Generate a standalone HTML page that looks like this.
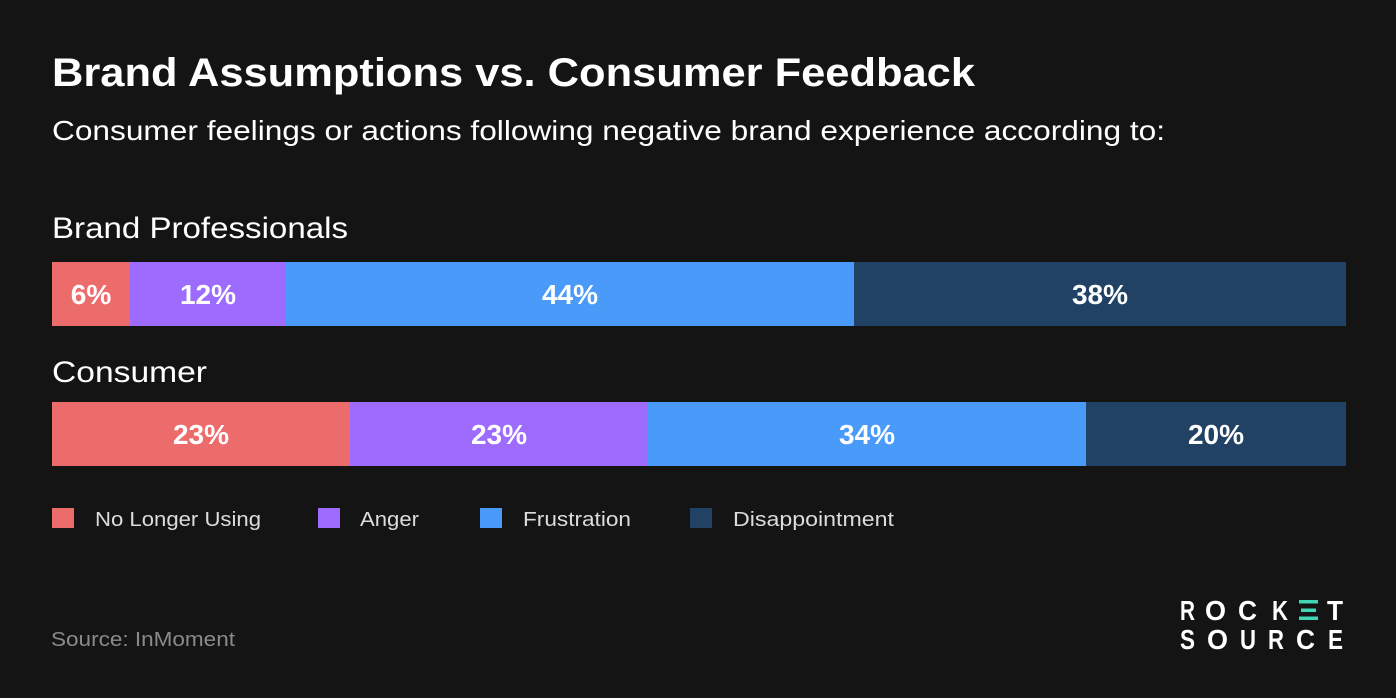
<!DOCTYPE html>
<html>
<head>
<meta charset="utf-8">
<style>
  html, body { margin:0; padding:0; background:#141414; }
  body { width:1396px; height:698px; overflow:hidden; }
  svg { display:block; }
  text { font-family: "Liberation Sans", "DejaVu Sans", sans-serif; }
</style>
</head>
<body>
<svg width="1396" height="698" viewBox="0 0 1396 698" xmlns="http://www.w3.org/2000/svg">
  <rect x="0" y="0" width="1396" height="698" fill="#141414"/>

  <!-- Title -->
  <text x="52" y="86" font-size="40" font-weight="bold" fill="#ffffff" textLength="923" lengthAdjust="spacingAndGlyphs">Brand Assumptions vs. Consumer Feedback</text>
  <!-- Subtitle -->
  <text x="52" y="140" font-size="28" fill="#ffffff" textLength="1113" lengthAdjust="spacingAndGlyphs">Consumer feelings or actions following negative brand experience according to:</text>

  <!-- Brand Professionals -->
  <text x="52" y="238" font-size="30" fill="#ffffff" textLength="296" lengthAdjust="spacingAndGlyphs">Brand Professionals</text>
  <rect x="52" y="262" width="78" height="64" fill="#EC6C6C"/>
  <rect x="130" y="262" width="156" height="64" fill="#9D6CFF"/>
  <rect x="286" y="262" width="568" height="64" fill="#4A9BF9"/>
  <rect x="854" y="262" width="492" height="64" fill="#224265"/>
  <g font-size="28" font-weight="bold" fill="#ffffff" text-anchor="middle">
    <text x="91" y="304">6%</text>
    <text x="208" y="304">12%</text>
    <text x="570" y="304">44%</text>
    <text x="1100" y="304">38%</text>
  </g>

  <!-- Consumer -->
  <text x="52" y="382" font-size="30" fill="#ffffff" textLength="155" lengthAdjust="spacingAndGlyphs">Consumer</text>
  <rect x="52" y="402" width="298" height="64" fill="#EC6C6C"/>
  <rect x="350" y="402" width="298" height="64" fill="#9D6CFF"/>
  <rect x="648" y="402" width="438" height="64" fill="#4A9BF9"/>
  <rect x="1086" y="402" width="260" height="64" fill="#224265"/>
  <g font-size="28" font-weight="bold" fill="#ffffff" text-anchor="middle">
    <text x="201" y="444">23%</text>
    <text x="499" y="444">23%</text>
    <text x="867" y="444">34%</text>
    <text x="1216" y="444">20%</text>
  </g>

  <!-- Legend -->
  <rect x="52" y="508" width="22" height="20" fill="#EC6C6C"/>
  <text x="95" y="526" font-size="20" fill="#dcdcdc" textLength="166" lengthAdjust="spacingAndGlyphs">No Longer Using</text>
  <rect x="318" y="508" width="22" height="20" fill="#9D6CFF"/>
  <text x="360" y="526" font-size="20" fill="#dcdcdc" textLength="59" lengthAdjust="spacingAndGlyphs">Anger</text>
  <rect x="480" y="508" width="22" height="20" fill="#4A9BF9"/>
  <text x="523" y="526" font-size="20" fill="#dcdcdc" textLength="108" lengthAdjust="spacingAndGlyphs">Frustration</text>
  <rect x="690" y="508" width="22" height="20" fill="#224265"/>
  <text x="733" y="526" font-size="20" fill="#dcdcdc" textLength="161" lengthAdjust="spacingAndGlyphs">Disappointment</text>

  <!-- Source -->
  <text x="51" y="646" font-size="20" fill="#8a8a8a" textLength="184" lengthAdjust="spacingAndGlyphs">Source: InMoment</text>

  <!-- Logo -->
  <g font-size="28" font-weight="bold" fill="#ffffff">
    <text x="1180" y="620" textLength="15" lengthAdjust="spacingAndGlyphs">R</text>
    <text x="1205" y="620" textLength="21" lengthAdjust="spacingAndGlyphs">O</text>
    <text x="1238" y="620" textLength="19" lengthAdjust="spacingAndGlyphs">C</text>
    <text x="1272" y="620" textLength="16" lengthAdjust="spacingAndGlyphs">K</text>
    <text x="1327" y="620" textLength="16" lengthAdjust="spacingAndGlyphs">T</text>

    <text x="1180" y="649" textLength="15" lengthAdjust="spacingAndGlyphs">S</text>
    <text x="1207" y="649" textLength="21" lengthAdjust="spacingAndGlyphs">O</text>
    <text x="1240" y="649" textLength="16" lengthAdjust="spacingAndGlyphs">U</text>
    <text x="1268" y="649" textLength="16" lengthAdjust="spacingAndGlyphs">R</text>
    <text x="1296" y="649" textLength="19" lengthAdjust="spacingAndGlyphs">C</text>
    <text x="1328" y="649" textLength="15" lengthAdjust="spacingAndGlyphs">E</text>
  </g>
  <rect x="1299" y="600" width="19" height="3.5" fill="#3ED6B5"/>
  <rect x="1301" y="608.5" width="15" height="3.5" fill="#3ED6B5"/>
  <rect x="1299" y="616.5" width="19" height="3.5" fill="#3ED6B5"/>
</svg>
</body>
</html>
